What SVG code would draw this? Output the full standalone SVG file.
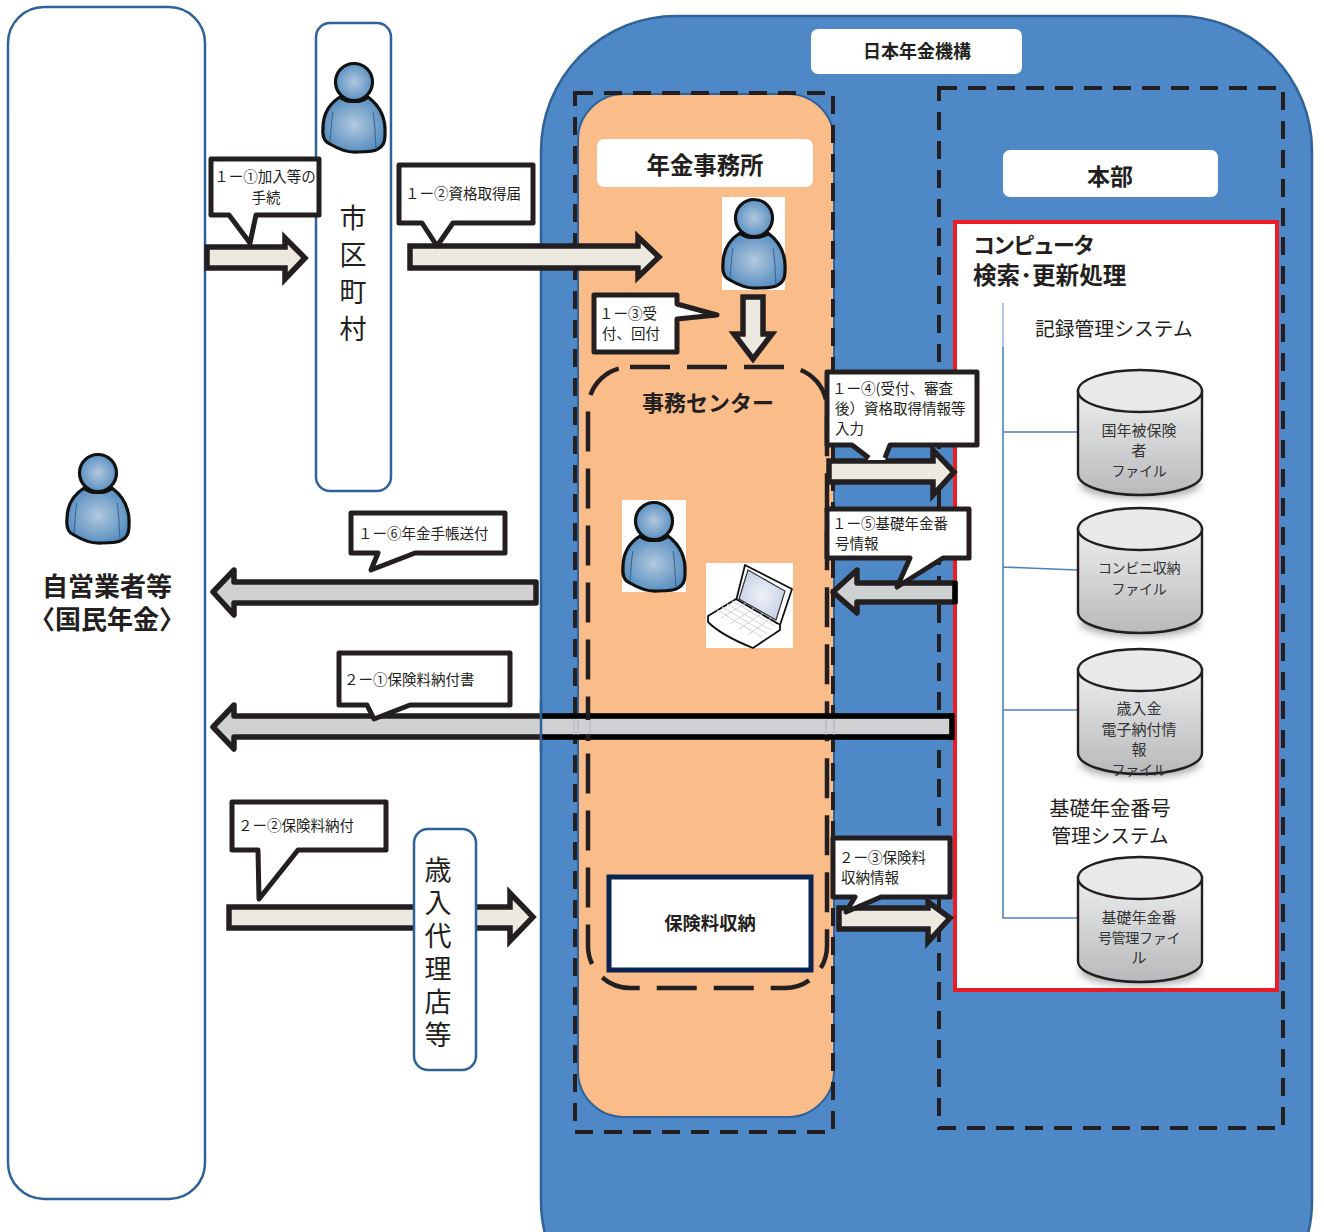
<svg xmlns="http://www.w3.org/2000/svg" width="1324" height="1232" viewBox="0 0 1324 1232">
<style>
text{font-family:"Noto Sans CJK JP","Noto Sans",sans-serif;fill:#231f20}
.c{text-anchor:middle}
.b{font-weight:700}
.lane{fill:#fff;stroke:#2f6299;stroke-width:2.5}
.lbl{fill:#fff;stroke:none}
.dash{fill:none;stroke:#231f20;stroke-width:4;stroke-dasharray:18 11}
.call{fill:#fff;stroke:#231f20;stroke-width:5;stroke-linejoin:round}
.ct{font-size:14.5px}
.fw{fill:#eceae0;stroke:#231f20;stroke-width:5.5;stroke-linejoin:miter}
.bk{fill:#cfd0d2;stroke:#231f20;stroke-width:5.5;stroke-linejoin:round}
.link{fill:none;stroke:#4f81bd;stroke-width:1.6}
.v{font-size:27px;writing-mode:vertical-rl}
.cy{font-size:15px;text-anchor:middle;fill:#333}
.k{font-size:14px;letter-spacing:-.3px}
</style>
<defs>
<radialGradient id="pg" cx="50%" cy="50%" r="60%"><stop offset="0" stop-color="#b3c8de"/><stop offset="1" stop-color="#4a86bd"/></radialGradient>
<linearGradient id="cg" x1="0" y1="0" x2="0" y2="1"><stop offset="0" stop-color="#eceded"/><stop offset="1" stop-color="#b8b9bb"/></linearGradient>
<radialGradient id="sg" cx="50%" cy="50%" r="60%"><stop offset="0" stop-color="#eef1f8"/><stop offset="1" stop-color="#c3cde3"/></radialGradient>
<filter id="blur" x="-20%" y="-50%" width="140%" height="200%"><feGaussianBlur stdDeviation="4"/></filter>
<g id="person">
<path d="M18,35C7,42 1,53 1,66C0,75 3,80 8,82C18,88 26,91 36,90C44,90 52,90 56,87C61,84 63,81 63,72C64,56 58,44 46,35C40,41 24,41 18,35Z" fill="url(#pg)" stroke="#111" stroke-width="3.2" stroke-linejoin="round"/>
<path d="M11,50C9,60 9,72 8,80M51,50C53,60 53,72 54,86" fill="none" stroke="#3a5f85" stroke-width="1"/>
<circle cx="32" cy="20" r="18.5" fill="url(#pg)" stroke="#111" stroke-width="3.2"/>
</g>
<g id="cyl">
<ellipse cx="63" cy="114" rx="60" ry="14" fill="#555" opacity=".55" filter="url(#blur)"/>
<path d="M1,21V104C1,116 29,125 63,125C97,125 125,116 125,104V21Z" fill="url(#cg)" stroke="#231f20" stroke-width="2.4"/>
<ellipse cx="63" cy="21" rx="62" ry="21" fill="#e8e9ea" stroke="#231f20" stroke-width="2.4"/>
</g>
</defs>

<rect width="1324" height="1232" fill="#fff"/>

<g id="self-employed">
<rect class="lane" x="8" y="7" width="197" height="1192" rx="36"/>
<use href="#person" x="66" y="453"/>
<text class="c b" x="107" y="596" font-size="26">自営業者等</text>
<text class="c b" x="107" y="629" font-size="26">〈国民年金〉</text>
</g>

<g id="municipality">
<rect class="lane" x="316" y="23" width="75" height="468" rx="14"/>
<use href="#person" x="322" y="62"/>
<text class="v" x="353" y="204" letter-spacing="10">市区町村</text>
</g>

<g id="jpo">
<rect x="541" y="16" width="771" height="1320" rx="135" fill="#4f88c6" stroke="#2f6299" stroke-width="2.5"/>
<rect class="lbl" x="811" y="29" width="211" height="45" rx="7"/>
<text class="c b" x="917" y="58" font-size="18">日本年金機構</text>
</g>

<g id="pension-office">
<rect x="578" y="94" width="256" height="1023" rx="46" fill="#fabd8a" stroke="#2f6299" stroke-width="2"/>
<rect class="dash" x="575" y="93" width="258" height="1039"/>
<rect class="lbl" x="597" y="139" width="216" height="48" rx="7"/>
<text class="c b" x="705" y="174" font-size="23.4">年金事務所</text>
<rect x="722" y="197" width="63" height="93" fill="#fff"/>
<use href="#person" x="722" y="198"/>
</g>

<g id="office-center">
<rect x="588" y="367" width="239" height="621" rx="42" fill="none" stroke="#231f20" stroke-width="4.5" stroke-dasharray="40 17"/>
<text class="c b" x="708" y="411" font-size="22">事務センター</text>
<rect x="622" y="500" width="64" height="92" fill="#fff"/>
<use href="#person" x="622" y="501"/>
<g id="laptop">
<rect x="706" y="563" width="87" height="85" fill="#fff"/>
<path d="M745,565L792,589L780,625L736,601Z" fill="#fff" stroke="#111" stroke-width="1.8" stroke-linejoin="round"/>
<path d="M748,570L785,591L776,620L739,599Z" fill="url(#sg)" stroke="#333" stroke-width="1.2"/>
<path d="M736,599L780,625L753,646L708,616Z" fill="#fff" stroke="#111" stroke-width="1.8" stroke-linejoin="round"/>
<path d="M708,616L708,622C720,634 738,642 753,648L780,630L780,625" fill="#fff" stroke="#111" stroke-width="1.8" stroke-linejoin="round"/>
<path d="M717,610L762,637M722,607L766,633M727,604L771,630M732,601L775,626M721,618L746,603M730,624L754,608M739,629L763,613M748,635L771,618" fill="none" stroke="#cfd3d9" stroke-width="1"/>
</g>
</g>

<g id="headquarters">
<rect class="dash" x="939" y="88" width="344" height="1040"/>
<rect class="lbl" x="1003" y="150" width="215" height="47" rx="7"/>
<text class="c b" x="1110" y="185" font-size="23">本部</text>
</g>

<g id="computer">
<rect x="955" y="222" width="322" height="768" fill="#fff" stroke="#ed1c24" stroke-width="4"/>
<text class="b" x="973" y="253" font-size="22" letter-spacing="-2">コンピュータ</text>
<text class="b" x="973" y="284" font-size="23.6">検索･更新処理</text>
<text x="1035" y="336" font-size="19.8" fill="#333">記録管理システム</text>
<text class="c" x="1110" y="816" font-size="20.3">基礎年金番号</text>
<text class="c" x="1110" y="843" font-size="19.6">管理システム</text>
</g>

<g id="system-links">
<path class="link" d="M1003,303V347" opacity=".55"/>
<path class="link" d="M1003,347V918H1077M1003,432H1077M1003,567L1077,570M1003,710H1077"/>
</g>

<g id="file-kokunen">
<use href="#cyl" x="1077" y="370"/>
<text class="cy" x="1139" y="436">国年被保険<tspan x="1139" dy="20">者</tspan></text>
<text class="cy k" x="1139" y="476">ファイル</text>
</g>
<g id="file-konbini">
<use href="#cyl" x="1077" y="508"/>
<text class="cy k" x="1139" y="573">コンビニ収納</text>
<text class="cy k" x="1139" y="594">ファイル</text>
</g>
<g id="file-denshi">
<use href="#cyl" x="1077" y="649"/>
<text class="cy" x="1139" y="714">歳入金<tspan x="1139" dy="21">電子納付情</tspan><tspan x="1139" dy="20">報</tspan></text>
<text class="cy k" x="1139" y="775">ファイル</text>
</g>
<g id="file-kiso">
<use href="#cyl" x="1077" y="857"/>
<text class="cy" x="1139" y="923">基礎年金番</text>
<text class="cy k" x="1139" y="943">号管理ファイ</text>
<text class="cy" x="1139" y="963">ル</text>
</g>

<g id="payment-box">
<rect x="609" y="877" width="202" height="93" fill="#fff" stroke="#0b2350" stroke-width="5"/>
<text class="c b" x="710" y="930" font-size="18.3">保険料収納</text>
</g>

<g id="connectors">
<path class="fw" d="M207,247H285V238L305,258L285,279V268H207Z"/>
<path class="fw" d="M410,246H638V237L659,257L638,277V268H410Z"/>
<path class="fw" d="M743,297H763V334H772L753,359L734,334H743Z"/>
<path class="fw" d="M829,461H933V450L954,472L933,495V482H829Z"/>
<path class="bk" d="M955,583H857V570L833,592L857,613V602H955Z"/>
<path d="M955,581V604" fill="none" stroke="#000" stroke-width="5"/>
<path class="bk" d="M536,582H234V570L213,592L234,615V603H536Z"/>
<path class="bk" d="M952,716H234V705L213,727L234,749V737H952Z"/>
<path d="M541,716H952V737H541M952,713V740" fill="none" stroke="#000" stroke-width="5"/>
<path d="M541,701V752" fill="none" stroke="#2f6299" stroke-width="2.5"/>
<g fill="none" stroke="#aab4c4" stroke-width="1"><path d="M574,720V735M578,720V735M590,720V735M826,720V735M834,720V735"/></g>
<path d="M588,712V720M588,734V741" stroke="#231f20" stroke-width="4.5" fill="none"/>
<path class="fw" d="M229,907H510V893L533,917L510,941V928H229Z"/>
<path class="fw" d="M839,908H928V902L950,918L928,942V929H839Z"/>
</g>

<g id="agent">
<rect class="lane" x="414" y="829" width="62" height="241" rx="14"/>
<text class="v" x="438" y="856" letter-spacing="6">歳入代理店等</text>
</g>

<g id="note-1-1">
<path class="call" d="M211,159H319V215H256L250,243L229,215H211Z"/>
<text class="ct c" x="265" y="182">１ー①加入等の</text>
<text class="ct c" x="266" y="203">手続</text>
</g>
<g id="note-1-2">
<path class="call" d="M399,165H533V223H453L437,246L422,223H399Z"/>
<text class="ct" x="405" y="199">１ー②資格取得届</text>
</g>
<g id="note-1-3">
<path class="call" d="M594,295H677V304L717,315L677,319V352H594Z"/>
<text class="ct" x="599" y="319">１ー③受</text>
<text class="ct" x="602" y="339">付、回付</text>
</g>
<g id="note-1-4">
<path d="M827,372H977V445H890L885,460H868L852,445H827Z" fill="#fff"/>
<path d="M885,458L890,445H977V372H827V445H852L869,458" fill="none" stroke="#231f20" stroke-width="5" stroke-linejoin="round"/>
<text class="ct" x="832" y="394">１ー④(受付、審査</text>
<text class="ct" x="835" y="414">後）資格取得情報等</text>
<text class="ct" x="835" y="434">入力</text>
</g>
<g id="note-1-5">
<path class="call" d="M827,509H969V558H943L897,587L910,558H827Z"/>
<text class="ct" x="832" y="529">１ー⑤基礎年金番</text>
<text class="ct" x="835" y="549">号情報</text>
</g>
<g id="note-1-6">
<path class="call" d="M351,513H505V553H415L371,570L378,553H351Z"/>
<text class="ct" x="358" y="539">１ー⑥年金手帳送付</text>
</g>
<g id="note-2-1">
<path class="call" d="M339,653H510V705H410L374,719L367,705H339Z"/>
<text class="ct" x="344" y="685">２ー①保険料納付書</text>
</g>
<g id="note-2-2">
<path class="call" d="M232,802H386V850H298L259,899L258,850H232Z"/>
<text class="ct" x="238" y="831">２ー②保険料納付</text>
</g>
<g id="note-2-3">
<path class="call" d="M833,838H950V897H881L846,912L855,897H833Z"/>
<text class="ct" x="839" y="863">２ー③保険料</text>
<text class="ct" x="841" y="883">収納情報</text>
</g>
</svg>
